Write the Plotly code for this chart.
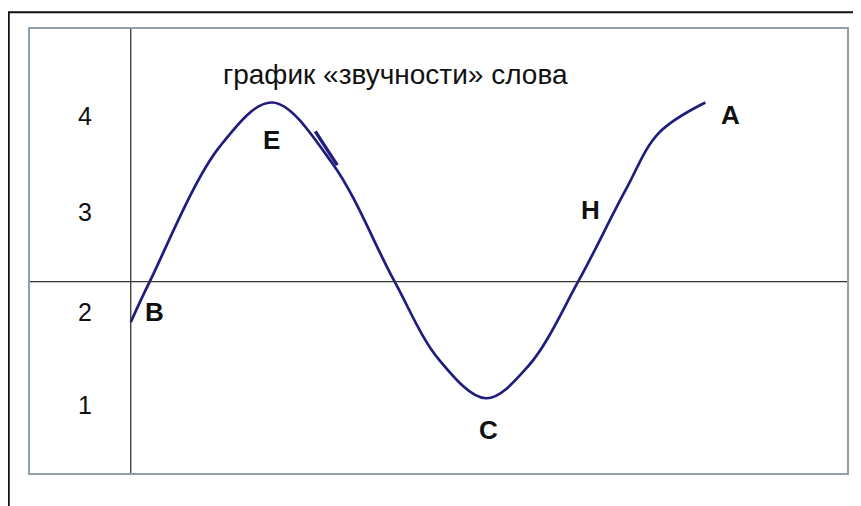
import plotly.graph_objects as go

# curve of the word's "sonority"
curve_x = [0.0, 0.19, 0.89, 1.42, 2.02, 2.64, 3.09, 3.56, 3.99, 4.49, 4.96, 5.29, 5.76]
curve_y = [1.86, 2.28, 3.68, 4.14, 3.51, 2.29, 1.47, 1.07, 1.41, 2.29, 3.23, 3.82, 4.14]

# little pen stroke on the falling side of the peak
stroke_x = [1.85, 2.07]
stroke_y = [3.84, 3.49]

point_names = ["E", "B", "C", "H", "A"]
point_x = [1.41, 0.24, 3.59, 4.61, 6.01]
point_y = [3.75, 1.97, 0.74, 3.02, 4.01]

level_labels = ["4", "3", "2", "1"]
level_y = [4.0, 3.0, 1.97, 1.0]

baseline_y = 2.28
title_text = "график «звучности» слова"

NAVY = "#1f1c7e"
FRAME = "#8ea2ac"

fig = go.Figure()
fig.add_trace(
    go.Scatter(
        x=curve_x,
        y=curve_y,
        mode="lines",
        line={"color": NAVY, "width": 2.7, "shape": "spline", "smoothing": 1.0},
        hoverinfo="skip",
    )
)
fig.add_trace(
    go.Scatter(
        x=stroke_x,
        y=stroke_y,
        mode="lines",
        line={"color": NAVY, "width": 3.4},
        hoverinfo="skip",
    )
)

for name, lx, ly in zip(point_names, point_x, point_y):
    fig.add_annotation(
        x=lx, y=ly, text=f"<b>{name}</b>", showarrow=False,
        font={"family": "Liberation Sans, Arial", "size": 26, "color": "#111"},
        xanchor="center", yanchor="middle",
    )

for label, ly in zip(level_labels, level_y):
    fig.add_annotation(
        x=-0.46, y=ly, text=label, showarrow=False,
        font={"family": "Liberation Sans, Arial", "size": 25, "color": "#111"},
        xanchor="center", yanchor="middle",
    )

fig.add_annotation(
    x=2.65, y=4.43, text=title_text, showarrow=False,
    font={"family": "Liberation Sans Narrow, Arial Narrow, Liberation Sans", "size": 28, "color": "#111"},
    xanchor="center", yanchor="middle",
)

# axes through the chart
fig.add_shape(type="line", xref="x", yref="paper", x0=0, x1=0, y0=0, y1=1,
              line={"color": "#333", "width": 1.3})
fig.add_shape(type="line", xref="paper", yref="y", x0=0, x1=1, y0=baseline_y, y1=baseline_y,
              line={"color": "#333", "width": 1.3})

# outer black frame (top and left only)
fig.add_shape(type="path", xref="paper", yref="paper",
              path="M -0.026,-0.08 L -0.026,1.038 L 1.02,1.038",
              line={"color": "#111", "width": 2})

fig.update_xaxes(range=[-1.01, 7.18], showgrid=False, zeroline=False, showticklabels=False,
                 showline=True, mirror=True, linecolor=FRAME, linewidth=2, ticks="")
fig.update_yaxes(range=[0.294, 4.903], showgrid=False, zeroline=False, showticklabels=False,
                 showline=True, mirror=True, linecolor=FRAME, linewidth=2, ticks="")
# page body keeps its 8px margin, so the figure is 8px smaller on each side
fig.update_layout(
    width=853,
    height=498,
    margin={"l": 22, "r": 12, "t": 21, "b": 33},
    paper_bgcolor="white",
    plot_bgcolor="white",
    showlegend=False,
)

fig.write_html("out.html")
